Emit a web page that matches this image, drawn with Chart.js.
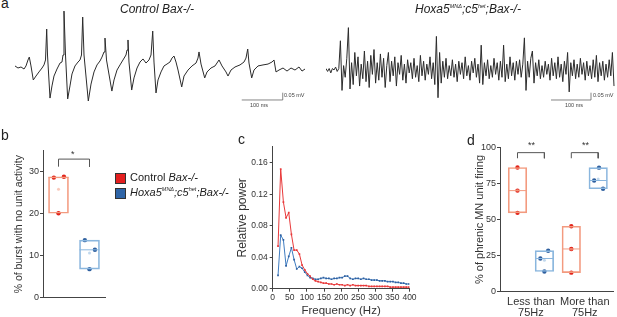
<!DOCTYPE html>
<html>
<head>
<meta charset="utf-8">
<script src="https://cdn.jsdelivr.net/npm/chart.js@4.4.1/dist/chart.umd.min.js"></script>
<style>
html, body { margin: 0; padding: 0; background: #fff; }
#fig { position: relative; width: 617px; height: 317px; overflow: hidden; font-family: "Liberation Sans", Arial, sans-serif; color: #222; }
#fig canvas { position: absolute; }
.t { position: absolute; white-space: nowrap; line-height: 1; }
.panel { font-size: 14px; }
.title { font-size: 12px; font-style: italic; }
.bar-label { font-size: 5.5px; color: #444; }
.legend { font-size: 11px; }
.sq { position: absolute; width: 9px; height: 9px; border: 0.5px solid #333; }
sup { font-size: 5.5px; vertical-align: 5px; }
.star { font-size: 9px; color: #333; }
</style>
</head>
<body>
<div id="fig">
  <canvas id="ctrlTrace" width="290" height="105" style="left:15px;top:5px"></canvas>
  <canvas id="hoxaTrace" width="291" height="105" style="left:326px;top:5px"></canvas>
  <canvas id="burstChart" width="112" height="172" style="left:0px;top:140px"></canvas>
  <canvas id="powerChart" width="200" height="182" style="left:222px;top:135px"></canvas>
  <canvas id="firingChart" width="152" height="182" style="left:465px;top:135px"></canvas>

  <div class="t panel" style="left:1px;top:-4px">a</div>
  <div class="t panel" style="left:1px;top:128px">b</div>
  <div class="t panel" style="left:238px;top:132px">c</div>
  <div class="t panel" style="left:467px;top:133px">d</div>

  <div class="t title" style="left:120px;top:3px">Control Bax-/-</div>
  <div class="t title" style="left:415px;top:3px">Hoxa5<sup>MNΔ</sup>;c5<sup>het</sup>;Bax-/-</div>

  <div class="t bar-label" style="left:250px;top:103px">100 ms</div>
  <div class="t bar-label" style="left:284px;top:93px">0.05 mV</div>
  <div class="t bar-label" style="left:565px;top:103px">100 ms</div>
  <div class="t bar-label" style="left:593px;top:93px">0.05 mV</div>

  <div class="sq" style="left:115px;top:173px;background:#e41f1f"></div>
  <div class="t legend" style="left:130px;top:172px">Control <i>Bax-/-</i></div>
  <div class="sq" style="left:115px;top:188px;background:#2f65a7"></div>
  <div class="t legend" style="left:130px;top:187px"><i>Hoxa5<sup>MNΔ</sup>;c5<sup>het</sup>;Bax-/-</i></div>

  <div class="t star" style="left:71px;top:150px">*</div>
  <div class="t star" style="left:528px;top:141px">**</div>
  <div class="t star" style="left:582px;top:141px">**</div>
</div>

<script>
// Trace a, Control Bax-/- (time in ms, potential in mV)
const ctrlTraceMs = [0, 7.3, 14.6, 22, 26.8, 31.7, 34.9, 39, 44.6, 51.2,
    58.5, 65.9, 70.7, 74.4, 77.3, 79.3, 85.4, 90.2, 95.1, 102.4,
    109.8, 114.6, 117.1, 119.5, 123.2, 128.5, 134.1, 139, 146.3, 153.7,
    158.5, 162.2, 165.1, 168.3, 178.8, 185.4, 192.7, 200, 207.3, 212.2,
    217.1, 219.5, 223.2, 236.3, 241.5, 248.8, 256.1, 263.4, 270.7, 273.2,
    275.6, 278, 284.6, 290.2, 297.6, 304.9, 312.2, 319.5, 326.8, 331.7,
    335.9, 339, 343.9, 348.8, 356.1, 363.4, 370.7, 378, 382.9, 387.8,
    392.7, 397.6, 406.6, 412.2, 422, 431.7, 441.5, 446.3, 448.8, 453.7,
    462.7, 468.3, 478, 487.8, 497.6, 504.9, 514.6, 519.5, 526.8, 536.6,
    548.8, 558.5, 563.4, 567.6, 570.7, 577.3, 582.9, 592.7, 604.9, 617.1,
    626.8, 631.7, 636.6, 643.9, 653.7, 663.4, 673.2, 682.9, 692.7, 700, 707.3];
const ctrlTraceMv = [0.014, 0, 0.007, -0.007, 0.014, 0.055, 0.075, 0.014, -0.082, -0.055,
    -0.027, 0, 0.021, 0.055, 0.267, 0.089, -0.206, -0.123, -0.055, -0.007,
    0.034, 0.041, 0.089, 0.39, 0.089, -0.212, -0.123, -0.041, 0.014, 0.041,
    0.055, 0.089, 0.349, 0.089, -0.226, -0.11, -0.027, 0.021, 0.048, 0.075,
    0.11, 0.205, 0.055, -0.158, -0.082, -0.014, 0.021, 0.055, 0.089, 0.123,
    0.192, 0.041, -0.151, -0.068, 0, 0.041, 0.062, 0.034, 0.055, 0.089,
    0.253, 0.041, -0.171, -0.082, -0.027, 0.014, 0.027, 0.041, 0.068, 0.082,
    0.041, -0.014, -0.13, -0.055, -0.014, 0.014, 0.034, 0.068, 0.11, 0.027,
    -0.068, -0.027, 0, 0.014, 0.055, 0.014, -0.027, -0.055, -0.014, 0.007,
    0.021, 0.041, 0.068, 0.13, 0.034, -0.068, -0.014, 0.014, 0.021, 0.027,
    0.041, 0.055, -0.027, -0.014, 0, -0.021, 0, -0.014, 0.007, -0.021, -0.007];

// Trace a, Hoxa5 mutant, sampled every 4 ms (mV)
const SAMPLE_MS = 4;
const hoxaTraceMv = [0.01, -0.01, 0.01, -0.02, 0.01, 0, 0.02, -0.01, 0.01, 0.20,
    -0.14, 0.03, -0.05, 0.08, 0.29, -0.13, 0.05, -0.10, 0.12, -0.04,
    0.09, -0.11, 0.04, -0.06, 0.13, -0.08, 0.06, -0.12, 0.10, -0.03,
    0.14, -0.09, 0.05, -0.07, 0.11, -0.05, 0.08, -0.12, 0.03, 0.12,
    -0.08, 0.06, -0.04, 0.09, -0.11, 0.05, -0.03, 0.10, -0.07, 0.04,
    -0.09, 0.07, -0.02, 0.05, -0.06, 0.08, -0.05, 0.03, -0.08, 0.10,
    -0.04, 0.06, -0.07, 0.04, -0.03, 0.09, -0.06, 0.05, -0.10, 0.23,
    -0.19, 0.12, -0.09, 0.06, -0.05, 0.08, -0.06, 0.03, -0.04, 0.07,
    -0.05, 0.04, -0.08, 0.06, -0.03, 0.05, -0.06, 0.09, -0.04, 0.03,
    -0.07, 0.06, -0.02, 0.08, -0.05, 0.04, -0.09, 0.17, -0.10, 0.05,
    -0.04, 0.07, -0.06, 0.03, -0.05, 0.08, -0.03, 0.05, -0.07, 0.06,
    -0.05, 0.17, -0.08, 0.04, -0.06, 0.09, -0.04, 0.05, -0.07, 0.06,
    -0.03, 0.07, -0.05, 0.04, 0.22, -0.14, 0.06, -0.05, 0.08, 0.13,
    -0.09, 0.05, -0.04, 0.07, -0.06, 0.03, -0.05, 0.06, -0.03, 0.04,
    -0.07, 0.08, -0.04, 0.05, -0.06, 0.09, -0.05, 0.04, -0.08, 0.06,
    -0.03, 0.12, -0.15, 0.05, -0.04, 0.07, -0.06, 0.04, -0.05, 0.08,
    -0.03, 0.05, -0.07, 0.06, -0.04, 0.03, -0.06, 0.07, -0.05, 0.10,
    -0.08, 0.05, -0.04, 0.06, -0.07, 0.04, -0.05, 0.07, -0.04, 0.12, -0.11];

// Panel b: % of bursts with no unit activity
const burstCtrl = [28.6, 28.8, 20.1];
const burstHoxa = [13.7, 11.4, 6.8];

// Panel c: relative power spectrum
const freqHz = [15.6, 23.4, 31.3, 39.1, 46.9, 54.7, 62.5, 70.3, 78.1, 85.9,
    93.8, 101.6, 109.4, 117.2, 125, 132.8, 140.6, 148.4, 156.3, 164.1,
    171.9, 179.7, 187.5, 195.3, 203.1, 210.9, 218.8, 226.6, 234.4, 242.2,
    250, 257.8, 265.6, 273.4, 281.3, 289.1, 296.9, 304.7, 312.5, 320.3,
    328.1, 335.9, 343.8, 351.6, 359.4, 367.2, 375, 382.8, 390.6, 398.4];
const powerCtrl = [0.054, 0.152, 0.110, 0.090, 0.0965, 0.069, 0.049, 0.049, 0.044, 0.030,
    0.024, 0.019, 0.016, 0.012, 0.010, 0.009, 0.008, 0.007, 0.007, 0.006,
    0.006, 0.005, 0.006, 0.005, 0.005, 0.004, 0.005, 0.004, 0.005, 0.004,
    0.004, 0.004, 0.004, 0.004, 0.003, 0.003, 0.003, 0.003, 0.003, 0.003,
    0.003, 0.003, 0.002, 0.002, 0.002, 0.002, 0.002, 0.002, 0.002, 0.002];
const powerHoxa = [0.017, 0.068, 0.062, 0.029, 0.041, 0.052, 0.037, 0.025, 0.028, 0.026,
    0.021, 0.017, 0.014, 0.013, 0.012, 0.012, 0.013, 0.014, 0.013, 0.013,
    0.012, 0.013, 0.013, 0.014, 0.014, 0.016, 0.016, 0.013, 0.012, 0.013,
    0.013, 0.012, 0.013, 0.012, 0.012, 0.011, 0.011, 0.011, 0.010, 0.010,
    0.010, 0.009, 0.009, 0.009, 0.008, 0.008, 0.007, 0.007, 0.006, 0.006];

// Panel d: % of phrenic MN unit firing
const firingGroups = [['Less than', '75Hz'], ['More than', '75Hz']];
const firingCtrlLess = [86, 70, 54.6];
const firingHoxaLess = [23, 28.4, 14];
const firingCtrlMore = [45.3, 29.6, 13.2];
const firingHoxaMore = [85.9, 77, 71.3];

// Colours
const RED = '#e2231a';
const BLUE = '#2e5f9f';
const RED_BOX = '#f39a7f';
const BLUE_BOX = '#8ab6de';
const RED_LINE = '#e8393a';
const BLUE_LINE = '#3f7cc0';
const AXIS = '#444';

Chart.defaults.font.family = '"Liberation Sans", Arial, sans-serif';
Chart.defaults.color = '#333';
Chart.defaults.plugins.legend.display = false;
Chart.defaults.plugins.tooltip.enabled = false;

const base = { responsive: false, animation: false, devicePixelRatio: 1, events: [] };

function traceChart(id, points, barStart, xMax, yMin, yMax) {
    const scaleBar = [
        { x: barStart.t, y: barStart.v },
        { x: barStart.t + 100, y: barStart.v },
        { x: barStart.t + 100, y: barStart.v + 0.05 }
    ];
    return new Chart(document.getElementById(id), {
        type: 'line',
        data: {
            datasets: [
                { data: points, borderColor: '#2b2b2b', borderWidth: 1, pointRadius: 0, tension: 0 },
                { data: scaleBar, borderColor: '#666', borderWidth: 0.8, pointRadius: 0 }
            ]
        },
        options: {
            ...base,
            layout: { padding: 0 },
            scales: {
                x: { type: 'linear', display: false, min: 0, max: xMax },
                y: { display: false, min: yMin, max: yMax }
            }
        }
    });
}

const median = vals => [...vals].sort((a, b) => a - b)[1];
const mean = vals => vals.reduce((s, v) => s + v, 0) / vals.length;

// box = min..max of the points, line at median, faint dot at mean
function boxSets(groups, halfWidth, thickness) {
    const sets = [{
        type: 'bar',
        data: groups.map(g => ({ x: g.x, y: [Math.min(...g.values), Math.max(...g.values)] })),
        backgroundColor: 'rgba(255,255,255,0)',
        borderColor: groups.map(g => g.box),
        borderWidth: 1,
        borderSkipped: false,
        barThickness: thickness
    }];
    groups.forEach(g => {
        const m = median(g.values);
        sets.push({
            type: 'line',
            data: [{ x: g.x - halfWidth, y: m }, { x: g.x + halfWidth, y: m }],
            borderColor: g.box, borderWidth: 1, pointRadius: 0
        });
        sets.push({
            type: 'line', showLine: false,
            data: [{ x: g.x, y: mean(g.values) }],
            pointRadius: 1.5, pointBorderWidth: 0, pointBackgroundColor: g.box + '88'
        });
        sets.push({
            type: 'line', showLine: false,
            data: g.values.map((v, i) => ({ x: g.x + g.jitter[i], y: v })),
            pointRadius: 2.2, pointBorderWidth: 0, pointBackgroundColor: g.dot
        });
    });
    return sets;
}

function bracket(x0, x1, low, high) {
    return {
        type: 'line',
        data: [{ x: x0, y: low }, { x: x0, y: high }, { x: x1, y: high }, { x: x1, y: low }],
        borderColor: '#555', borderWidth: 1, pointRadius: 0
    };
}

document.addEventListener('DOMContentLoaded', () => {
    // panel a traces
    traceChart('ctrlTrace',
        ctrlTraceMs.map((t, i) => ({ x: t, y: ctrlTraceMv[i] })),
        { t: 553, v: -0.219 }, 707.3, -0.2877, 0.4316);
    traceChart('hoxaTrace',
        hoxaTraceMv.map((v, i) => ({ x: i * SAMPLE_MS, y: v })),
        { t: 562.5, v: -0.2055 }, 727.5, -0.274, 0.445);

    // panel b
    new Chart(document.getElementById('burstChart'), {
        type: 'bar',
        data: {
            datasets: [
                ...boxSets([
                    { x: 1, values: burstCtrl, jitter: [-0.3, 0.35, 0], box: RED_BOX, dot: RED },
                    { x: 3, values: burstHoxa, jitter: [-0.3, 0.35, 0], box: BLUE_BOX, dot: BLUE }
                ], 0.645, 20),
                bracket(1, 3, 31.2, 33)
            ]
        },
        options: {
            ...base,
            layout: { padding: { top: 10.7, right: 7, left: 0, bottom: 0 } },
            scales: {
                x: {
                    type: 'linear', min: 0, max: 4, offset: false,
                    ticks: { display: false }, grid: { display: false, drawTicks: false },
                    border: { color: AXIS },
                    afterFit: s => { s.height = 14.3; }
                },
                y: {
                    min: 0, max: 35,
                    ticks: { stepSize: 10, includeBounds: false, padding: 1, font: { size: 9 } },
                    grid: { drawOnChartArea: false, tickLength: 3, color: AXIS },
                    border: { color: AXIS },
                    title: { display: true, text: '% of burst with no unit activity', font: { size: 10.5 }, padding: { top: 13, bottom: 0 } },
                    afterFit: s => { s.width = 43; }
                }
            }
        }
    });

    // panel c
    new Chart(document.getElementById('powerChart'), {
        type: 'line',
        data: {
            datasets: [
                {
                    data: freqHz.map((f, i) => ({ x: f, y: powerCtrl[i] })),
                    borderColor: RED_LINE, backgroundColor: RED_LINE, borderWidth: 1,
                    pointRadius: 1.2, pointStyle: 'rect', pointBorderWidth: 0
                },
                {
                    data: freqHz.map((f, i) => ({ x: f, y: powerHoxa[i] })),
                    borderColor: BLUE_LINE, backgroundColor: BLUE, borderWidth: 1,
                    pointRadius: 1.2, pointStyle: 'rect', pointBorderWidth: 0
                }
            ]
        },
        options: {
            ...base,
            layout: { padding: { top: 11.95, right: 12.5, left: 0, bottom: 0 } },
            scales: {
                x: {
                    type: 'linear', min: 0, max: 400,
                    ticks: { stepSize: 50, autoSkip: false, maxRotation: 0, padding: 1, font: { size: 8.5 } },
                    grid: { drawOnChartArea: false, tickLength: 3, color: AXIS },
                    border: { color: AXIS },
                    title: { display: true, text: 'Frequency (Hz)', font: { size: 11.5, lineHeight: 1 }, padding: 0 },
                    afterFit: s => { s.height = 28.3; }
                },
                y: {
                    min: 0, max: 0.18,
                    ticks: { stepSize: 0.04, includeBounds: false, padding: 2, font: { size: 8.5 }, callback: v => v.toFixed(2) },
                    grid: { drawOnChartArea: false, tickLength: 3, color: AXIS },
                    border: { color: AXIS },
                    title: { display: true, text: 'Relative power', font: { size: 12 }, padding: { top: 13.8, bottom: 0 } },
                    afterFit: s => { s.width = 50.7; }
                }
            }
        }
    });

    // panel d
    new Chart(document.getElementById('firingChart'), {
        type: 'bar',
        data: {
            datasets: [
                ...boxSets([
                    { x: 0, values: firingCtrlLess, jitter: [0, 0, 0], box: RED_BOX, dot: RED },
                    { x: 1, values: firingHoxaLess, jitter: [-0.15, 0.14, 0], box: BLUE_BOX, dot: BLUE },
                    { x: 2, values: firingCtrlMore, jitter: [0, 0, 0], box: RED_BOX, dot: RED },
                    { x: 3, values: firingHoxaMore, jitter: [0.03, -0.15, 0.18], box: BLUE_BOX, dot: BLUE }
                ], 0.33, 18.5),
                bracket(0, 1, 92.4, 96.3),
                bracket(2, 3, 92.4, 96.3)
            ]
        },
        options: {
            ...base,
            layout: { padding: { top: 12.3, right: 0, left: 0, bottom: 0 } },
            scales: {
                x: {
                    type: 'linear', min: -0.65, max: 3.55, offset: false,
                    afterBuildTicks: s => { s.ticks = [{ value: 0.5 }, { value: 2.5 }]; },
                    ticks: { callback: (v, i) => firingGroups[i], maxRotation: 0, autoSkip: false, padding: 5, font: { size: 11, lineHeight: 1 } },
                    grid: { display: false, drawTicks: false },
                    border: { color: AXIS },
                    afterFit: s => { s.height = 25.3; }
                },
                y: {
                    min: 0, max: 100,
                    ticks: { stepSize: 25, padding: 1, font: { size: 9 } },
                    grid: { drawOnChartArea: false, tickLength: 3, color: AXIS },
                    border: { color: AXIS },
                    title: { display: true, text: '% of phrenic MN unit firing', font: { size: 11 }, padding: { top: 8.4, bottom: 0 } },
                    afterFit: s => { s.width = 35; }
                }
            }
        }
    });
});
</script>
</body>
</html>
